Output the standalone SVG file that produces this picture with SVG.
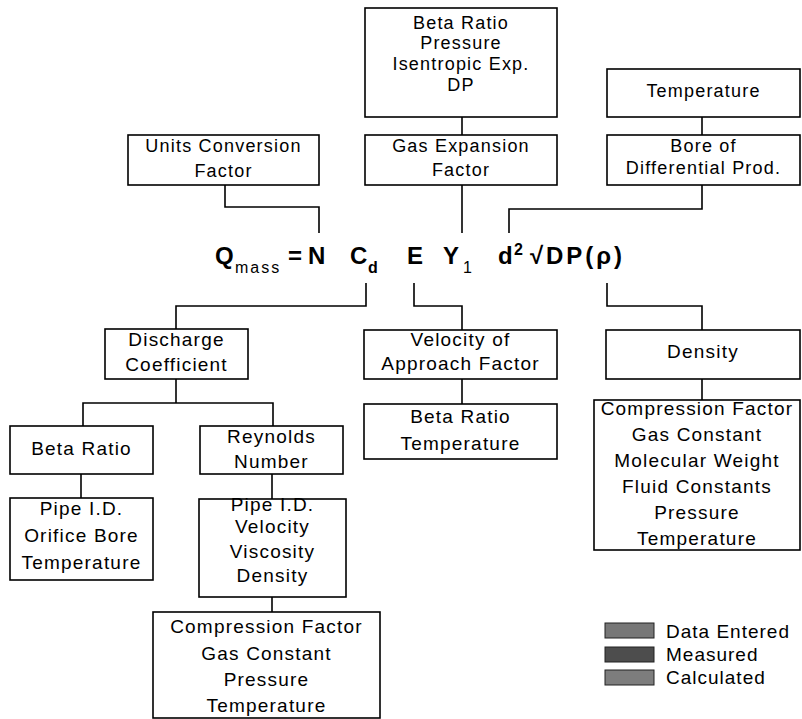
<svg xmlns="http://www.w3.org/2000/svg" width="802" height="719" viewBox="0 0 802 719">
<style>
.box{fill:#fff;stroke:#000;stroke-width:1.6}
.c{fill:none;stroke:#000;stroke-width:1.6}
text{font-family:"Liberation Sans",Arial,sans-serif;fill:#000}
.t{font-size:18px;letter-spacing:1.2px;text-anchor:middle}
.u{font-size:19px;letter-spacing:1.2px;text-anchor:middle}
.eq{font-size:24px;font-weight:bold}
.sub{font-size:16px}
.lg{font-size:19px;letter-spacing:1px}
.sw{stroke:#222;stroke-width:1}
</style>
<rect width="802" height="719" fill="#fff"/>
<g id="connectors">
<path class="c" d="M225,185 V207 H319 V233"/>
<path class="c" d="M462,117 V135"/>
<path class="c" d="M462,185 V233"/>
<path class="c" d="M702,117 V135"/>
<path class="c" d="M702,185 V209 H509 V233"/>
<path class="c" d="M366,283 V306 H176 V329"/>
<path class="c" d="M414,283 V306 H462 V330"/>
<path class="c" d="M607,283 V306 H702 V330"/>
<path class="c" d="M176,379 V403"/>
<path class="c" d="M83,426 V403 H273 V426"/>
<path class="c" d="M81,474 V498"/>
<path class="c" d="M272,474 V499"/>
<path class="c" d="M272,597 V612"/>
<path class="c" d="M462,379 V404"/>
<path class="c" d="M702,379 V400"/>
</g>
<g id="equation">
<text class="eq" x="215" y="264">Q</text>
<text class="sub" x="235" y="273" letter-spacing="2">mass</text>
<text class="eq" x="288" y="264">=</text>
<text class="eq" x="308" y="264">N</text>
<text class="eq" x="350" y="264">C</text>
<text class="sub" x="368" y="273" font-weight="bold">d</text>
<text class="eq" x="407" y="264">E</text>
<text class="eq" x="443" y="264">Y</text>
<text class="sub" x="463" y="273" font-size="14">1</text>
<text class="eq" x="498" y="264">d</text>
<text class="sub" x="514" y="255" font-size="14" font-weight="bold">2</text>
<text class="eq" x="530" y="264" textLength="92" lengthAdjust="spacing">√DP(ρ)</text>
</g>
<g id="beta-top">
<rect class="box" x="365" y="8" width="192" height="109"/>
<text class="t" x="461" y="29">Beta Ratio</text>
<text class="t" x="461" y="49">Pressure</text>
<text class="t" x="461" y="70">Isentropic Exp.</text>
<text class="t" x="461" y="91">DP</text>
</g>
<g id="gas-expansion">
<rect class="box" x="365" y="135" width="192" height="50"/>
<text class="t" x="461" y="152">Gas Expansion</text>
<text class="t" x="461" y="176">Factor</text>
</g>
<g id="units">
<rect class="box" x="128" y="135" width="191" height="50"/>
<text class="t" x="223.5" y="152">Units Conversion</text>
<text class="t" x="223.5" y="177">Factor</text>
</g>
<g id="temperature-top">
<rect class="box" x="607" y="69" width="193" height="48"/>
<text class="t" x="703.5" y="97">Temperature</text>
</g>
<g id="bore">
<rect class="box" x="607" y="135" width="193" height="50"/>
<text class="t" x="703.5" y="152">Bore of</text>
<text class="t" x="703.5" y="174">Differential Prod.</text>
</g>
<g id="discharge">
<rect class="box" x="105" y="329" width="143" height="50"/>
<text class="u" x="176.5" y="346">Discharge</text>
<text class="u" x="176.5" y="371">Coefficient</text>
</g>
<g id="velocity">
<rect class="box" x="364" y="330" width="193" height="49"/>
<text class="u" x="460.5" y="346">Velocity of</text>
<text class="u" x="460.5" y="370">Approach Factor</text>
</g>
<g id="density">
<rect class="box" x="606" y="330" width="194" height="49"/>
<text class="u" x="703" y="358">Density</text>
</g>
<g id="beta-temp">
<rect class="box" x="364" y="404" width="193" height="55"/>
<text class="u" x="460.5" y="423">Beta Ratio</text>
<text class="u" x="460.5" y="450">Temperature</text>
</g>
<g id="density-inputs">
<rect class="box" x="594" y="400" width="206" height="150"/>
<text class="u" x="697" y="415">Compression Factor</text>
<text class="u" x="697" y="441">Gas Constant</text>
<text class="u" x="697" y="467">Molecular Weight</text>
<text class="u" x="697" y="493">Fluid Constants</text>
<text class="u" x="697" y="519">Pressure</text>
<text class="u" x="697" y="545">Temperature</text>
</g>
<g id="beta-left">
<rect class="box" x="10" y="426" width="143" height="48"/>
<text class="u" x="81.5" y="455">Beta Ratio</text>
</g>
<g id="reynolds">
<rect class="box" x="200" y="426" width="143" height="48"/>
<text class="u" x="271.5" y="443">Reynolds</text>
<text class="u" x="271.5" y="468">Number</text>
</g>
<g id="pipe-left">
<rect class="box" x="10" y="498" width="143" height="82"/>
<text class="u" x="81.5" y="515">Pipe I.D.</text>
<text class="u" x="81.5" y="542">Orifice Bore</text>
<text class="u" x="81.5" y="569">Temperature</text>
</g>
<g id="reynolds-inputs">
<rect class="box" x="199" y="499" width="147" height="98"/>
<text class="u" x="272.5" y="511">Pipe I.D.</text>
<text class="u" x="272.5" y="533">Velocity</text>
<text class="u" x="272.5" y="558">Viscosity</text>
<text class="u" x="272.5" y="582">Density</text>
</g>
<g id="gas-inputs">
<rect class="box" x="153" y="612" width="227" height="106"/>
<text class="u" x="266.5" y="633">Compression Factor</text>
<text class="u" x="266.5" y="660">Gas Constant</text>
<text class="u" x="266.5" y="686">Pressure</text>
<text class="u" x="266.5" y="712">Temperature</text>
</g>
<g id="legend">
<rect class="sw" x="605" y="623" width="49" height="15" fill="#777"/>
<text class="lg" x="666" y="638">Data Entered</text>
<rect class="sw" x="605" y="647" width="49" height="15" fill="#4d4d4d"/>
<text class="lg" x="666" y="661">Measured</text>
<rect class="sw" x="605" y="670" width="49" height="15" fill="#7d7d7d"/>
<text class="lg" x="666" y="684">Calculated</text>
</g>
</svg>
